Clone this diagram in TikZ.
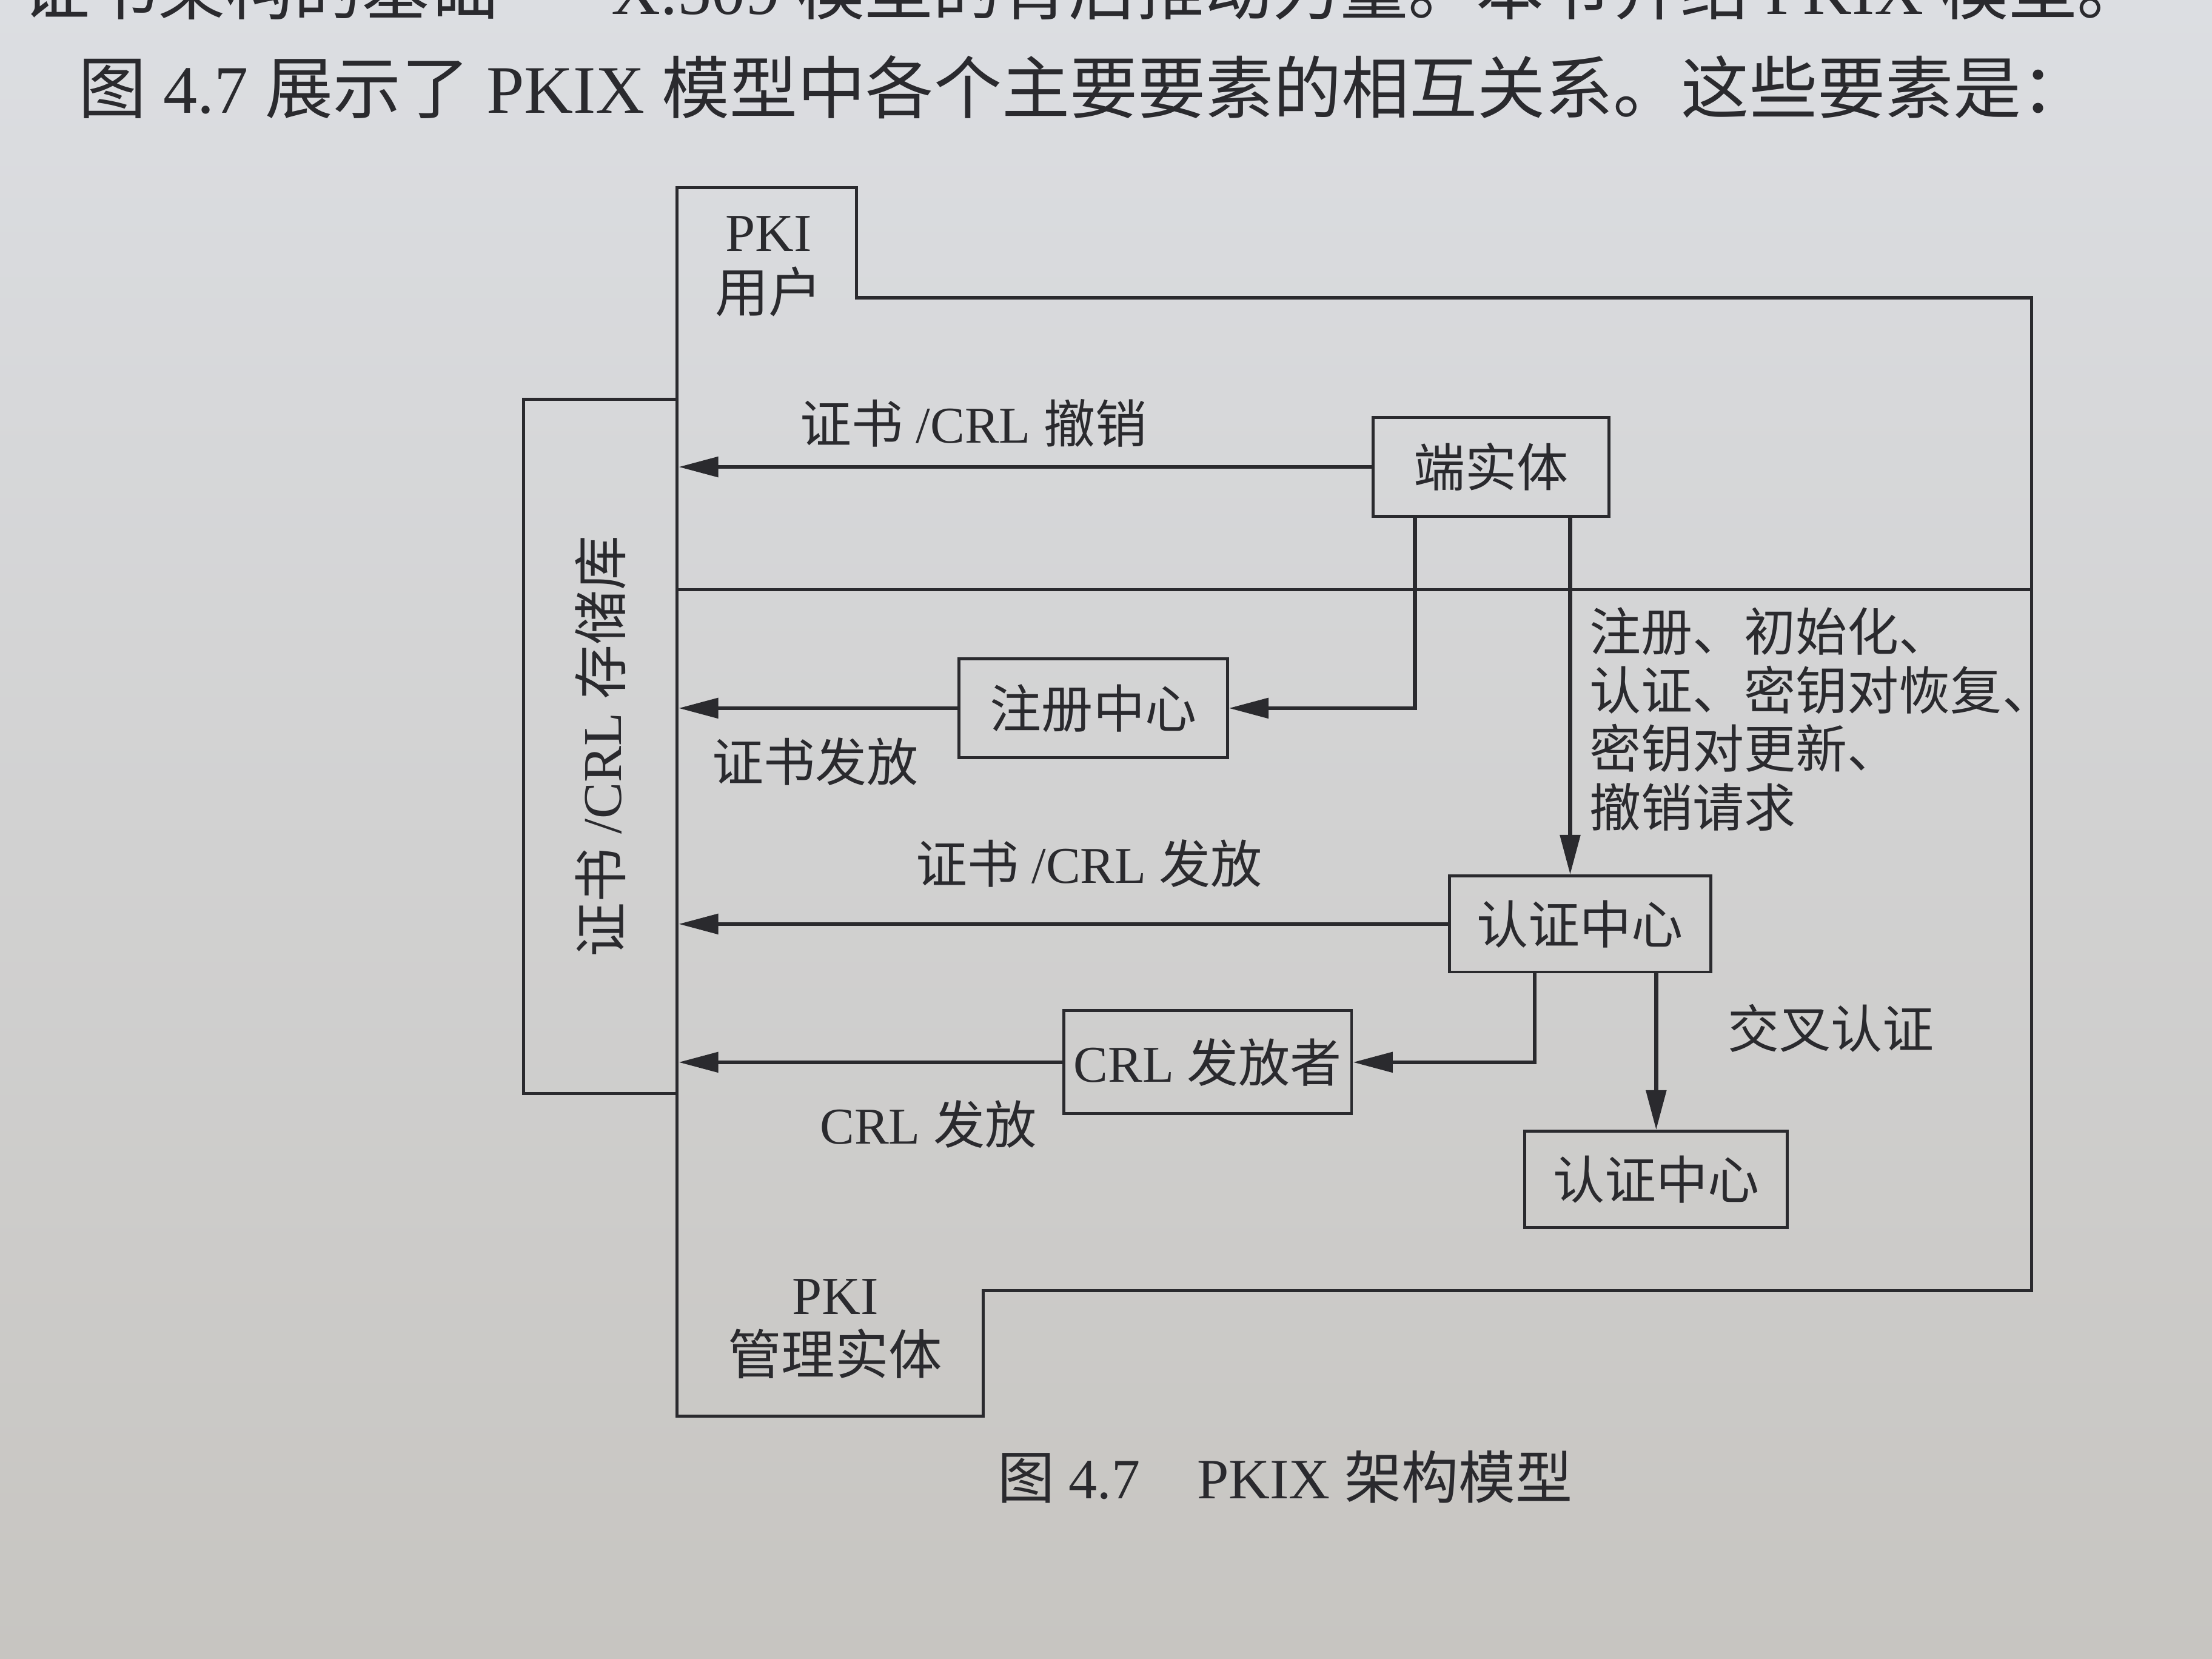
\documentclass[tikz,border=0pt]{standalone}
\usepackage{fontspec}
\setmainfont{Liberation Serif}
\newfontfamily\cjk{Noto Sans CJK SC}
\usetikzlibrary{arrows.meta,calc}

\definecolor{ink}{RGB}{42,42,46}
\definecolor{papertop}{RGB}{220,222,226}
\definecolor{paperbot}{RGB}{199,197,193}

% Chinese runs are switched to the CJK family by hand
\newcommand{\hz}[1]{{\cjk #1}}
\newcommand{\lblfont}{\fontsize{10.4}{11.8}\selectfont}
\newcommand{\repofont}{\fontsize{11}{13}\selectfont}
\newcommand{\tagfont}{\fontsize{10.8}{12.2}\selectfont}
\newcommand{\bodyfont}{\fontsize{13.7}{16}\selectfont}
\newcommand{\capfont}{\fontsize{11.5}{13.5}\selectfont}

\begin{document}
\begin{tikzpicture}[x=0.01cm,y=-0.01cm,
  entity/.style={draw=ink,line width=0.6pt,inner sep=0pt,text=ink,font=\lblfont},
  lbl/.style={inner sep=0pt,text=ink,font=\lblfont},
  regiontag/.style={inner sep=0pt,text=ink,font=\tagfont,align=center},
  frame/.style={draw=ink,line width=0.65pt,line join=miter},
  flow/.style={draw=ink,line width=0.8pt,-{Triangle[length=8pt,width=4pt]}},
  bodytext/.style={inner sep=0pt,text=ink,font=\bodyfont},
  captext/.style={inner sep=0pt,text=ink,font=\capfont}]

% page background
\useasboundingbox (0,0) rectangle (1568,1176);
\clip (0,0) rectangle (1568,1176);
\shade[top color=papertop,bottom color=paperbot] (0,0) rectangle (1568,1176);

% running text above the figure (the first line runs off the top of the page)
\node[bodytext,anchor=base west] (line1) at (15,10)
  {\hz{证书架构的基础——}X.509 \hz{模型的背后推动力量。本节介绍} PKIX \hz{模型。}};
\node[bodytext,anchor=base west] (line2) at (55,80)
  {\hz{图} 4.7 \hz{展示了} PKIX \hz{模型中各个主要要素的相互关系。这些要素是：}};

% the two regions: PKI users (top) and PKI management entities (bottom)
\draw[frame] (480,133) -- (607,133) -- (607,211) -- (1440,211) -- (1440,915)
  -- (697,915) -- (697,1004) -- (480,1004) -- cycle;
\draw[frame] (480,418) -- (1440,418);
\node[regiontag] (users) at (545,189) {PKI\\\hz{用户}};
\node[regiontag] (mgmt) at (592,942) {PKI\\\hz{管理实体}};

% certificate / CRL repository
\node[entity,minimum width=1.09cm,minimum height=4.92cm] (repo) at (425.5,529) {};
\node[inner sep=0pt,text=ink,font=\repofont,rotate=90] (repotext) at (repo.center)
  {\hz{证书} /CRL \hz{存储库}};

% entities
\node[entity,minimum width=1.67cm,minimum height=0.70cm] (ee)  at (1057,331) {\hz{端实体}};
\node[entity,minimum width=1.90cm,minimum height=0.70cm] (ra)  at (775,502)  {\hz{注册中心}};
\node[entity,minimum width=1.85cm,minimum height=0.68cm] (ca)  at (1120,655) {\hz{认证中心}};
\node[entity,minimum width=2.04cm,minimum height=0.73cm] (crl) at (856,753)  {CRL \hz{发放者}};
\node[entity,minimum width=1.86cm,minimum height=0.68cm] (ca2) at (1174,836) {\hz{认证中心}};

% connectors
\coordinate (eeL) at ([xshift=-0.54cm]ee.south);
\coordinate (eeR) at ([xshift=0.56cm]ee.south);
\coordinate (caL) at ([xshift=-0.32cm]ca.south);

\draw[flow] (ee.west) -- (ee.west -| repo.east);
\draw[flow] (eeL) |- (ra.east);
\draw[flow] (ra.west) -- (ra.west -| repo.east);
\draw[flow] (eeR) -- (eeR |- ca.north);
\draw[flow] (ca.west) -- (ca.west -| repo.east);
\draw[flow] (caL) |- (crl.east);
\draw[flow] (crl.west) -- (crl.west -| repo.east);
\draw[flow] (ca2.north |- ca.south) -- (ca2.north);

% connector labels
\node[lbl] (revoke) at (690,300) {\hz{证书} /CRL \hz{撤销}};
\node[lbl] (certissue) at (578,540) {\hz{证书发放}};
\node[lbl] (crlcertissue) at (772,612) {\hz{证书} /CRL \hz{发放}};
\node[lbl] (crlissue) at (658,797) {CRL \hz{发放}};
\node[lbl] (cross) at (1298,729) {\hz{交叉认证}};
\node[lbl,anchor=north west,align=left] (requests) at (1126,430)
  {\hz{注册、初始化、}\\\hz{认证、密钥对恢复、}\\\hz{密钥对更新、}\\\hz{撤销请求}};

% caption
\node[captext] (caption) at (911,1047) {\hz{图} 4.7\quad PKIX \hz{架构模型}};
\end{tikzpicture}
\end{document}
